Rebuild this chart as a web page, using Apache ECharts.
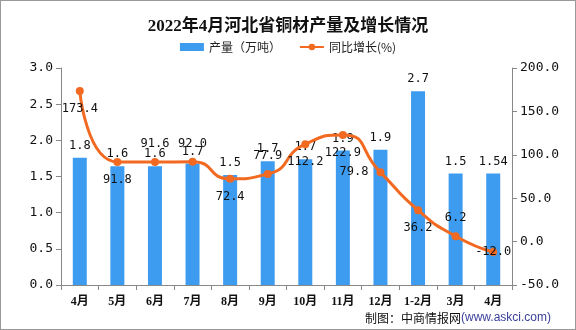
<!DOCTYPE html>
<html><head><meta charset="utf-8">
<script src="https://cdn.jsdelivr.net/npm/echarts@6/dist/echarts.min.js"></script>
<style>html,body{margin:0;padding:0;background:#fff}#c{width:574px;height:328px;border:1px solid #999}</style>
</head><body><div id="c"></div>
<script>
const categories = ['4月','5月','6月','7月','8月','9月','10月','11月','12月','1-2月','3月','4月'];
const output = [1.76, 1.64, 1.64, 1.68, 1.52, 1.71, 1.74, 1.86, 1.87, 2.68, 1.54, 1.54];
const outputLabels = ['1.8','1.6','1.6','1.7','1.5','1.7','1.7','1.9','1.9','2.7','1.5','1.54'];
const growth = [173.4, 91.8, 91.6, 92.0, 72.4, 77.9, 112.2, 122.9, 79.8, 36.2, 6.2, -12.0];
const leftTicks = ['0.0','0.5','1.0','1.5','2.0','2.5','3.0'];
const rightTicks = ['-50.0','0.0','50.0','100.0','150.0','200.0'];
const growthLabelPos = ['bottom','bottom','top','top','bottom','top','bottom','bottom','left','bottom','top','inside'];

const chart = echarts.init(document.getElementById('c'));
const mono = 'DejaVu Sans Mono';
chart.setOption({
  animation:false,
  title:{text:'2022年4月河北省铜材产量及增长情况',left:'center',top:12,
    textStyle:{fontFamily:'Liberation Serif, Noto Sans CJK SC',fontWeight:'bold',fontSize:17,color:'#111'}},
  legend:{top:35,left:'center',itemGap:18,itemWidth:24,itemHeight:8,
    textStyle:{fontSize:12,color:'#222',fontFamily:'Noto Sans CJK SC'},
    data:[{name:'产量（万吨）',icon:'rect'},{name:'同比增长(%)'}]},
  grid:{left:60,right:63,top:67,bottom:44},
  xAxis:{type:'category',data:categories,
    axisLine:{lineStyle:{color:'#888'}},axisTick:{show:true,alignWithLabel:false,lineStyle:{color:'#888'}},
    axisLabel:{color:'#111',fontSize:12,margin:11,fontWeight:'bold',fontFamily:'Liberation Serif, Noto Sans CJK SC'}},
  yAxis:[
    {type:'value',min:0,max:3,interval:0.5,splitLine:{show:false},
     axisLine:{show:true,lineStyle:{color:'#888'}},axisTick:{show:true,lineStyle:{color:'#888'}},
     axisLabel:{color:'#111',fontSize:13,fontFamily:mono,formatter:(v)=>leftTicks[Math.round(v/0.5)]}},
    {type:'value',min:-50,max:200,interval:50,splitLine:{show:false},
     axisLine:{show:true,lineStyle:{color:'#888'}},axisTick:{show:true,lineStyle:{color:'#888'}},
     axisLabel:{color:'#111',fontSize:13,fontFamily:mono,formatter:(v)=>rightTicks[Math.round((v+50)/50)]}}
  ],
  graphic:[{type:'text',right:24,bottom:5,style:{
    text:'{a|制图：中商情报网}{b|(www.askci.com)}',
    rich:{a:{fontSize:12,fill:'#111',fontFamily:'Noto Sans CJK SC'},b:{fontSize:12,fill:'#3a3f9a',fontFamily:'Liberation Sans'}}}}],
  series:[
    {name:'产量（万吨）',type:'bar',data:output,barWidth:14,itemStyle:{color:'#3e9cf0'},
     label:{show:true,position:'top',distance:6,color:'#111',fontSize:12,fontFamily:mono,
       formatter:(p)=>outputLabels[p.dataIndex]}},
    {name:'同比增长(%)',type:'line',yAxisIndex:1,smooth:0.6,data:growth.map((v,i)=>({value:v,label:{position:growthLabelPos[i]}})),
     symbol:'circle',symbolSize:8,lineStyle:{color:'#f26a21',width:3},itemStyle:{color:'#f26a21'},
     label:{show:true,distance:8,color:'#111',fontSize:12,fontFamily:mono,formatter:(p)=>growth[p.dataIndex].toFixed(1)}}
  ]
});
</script></body></html>
